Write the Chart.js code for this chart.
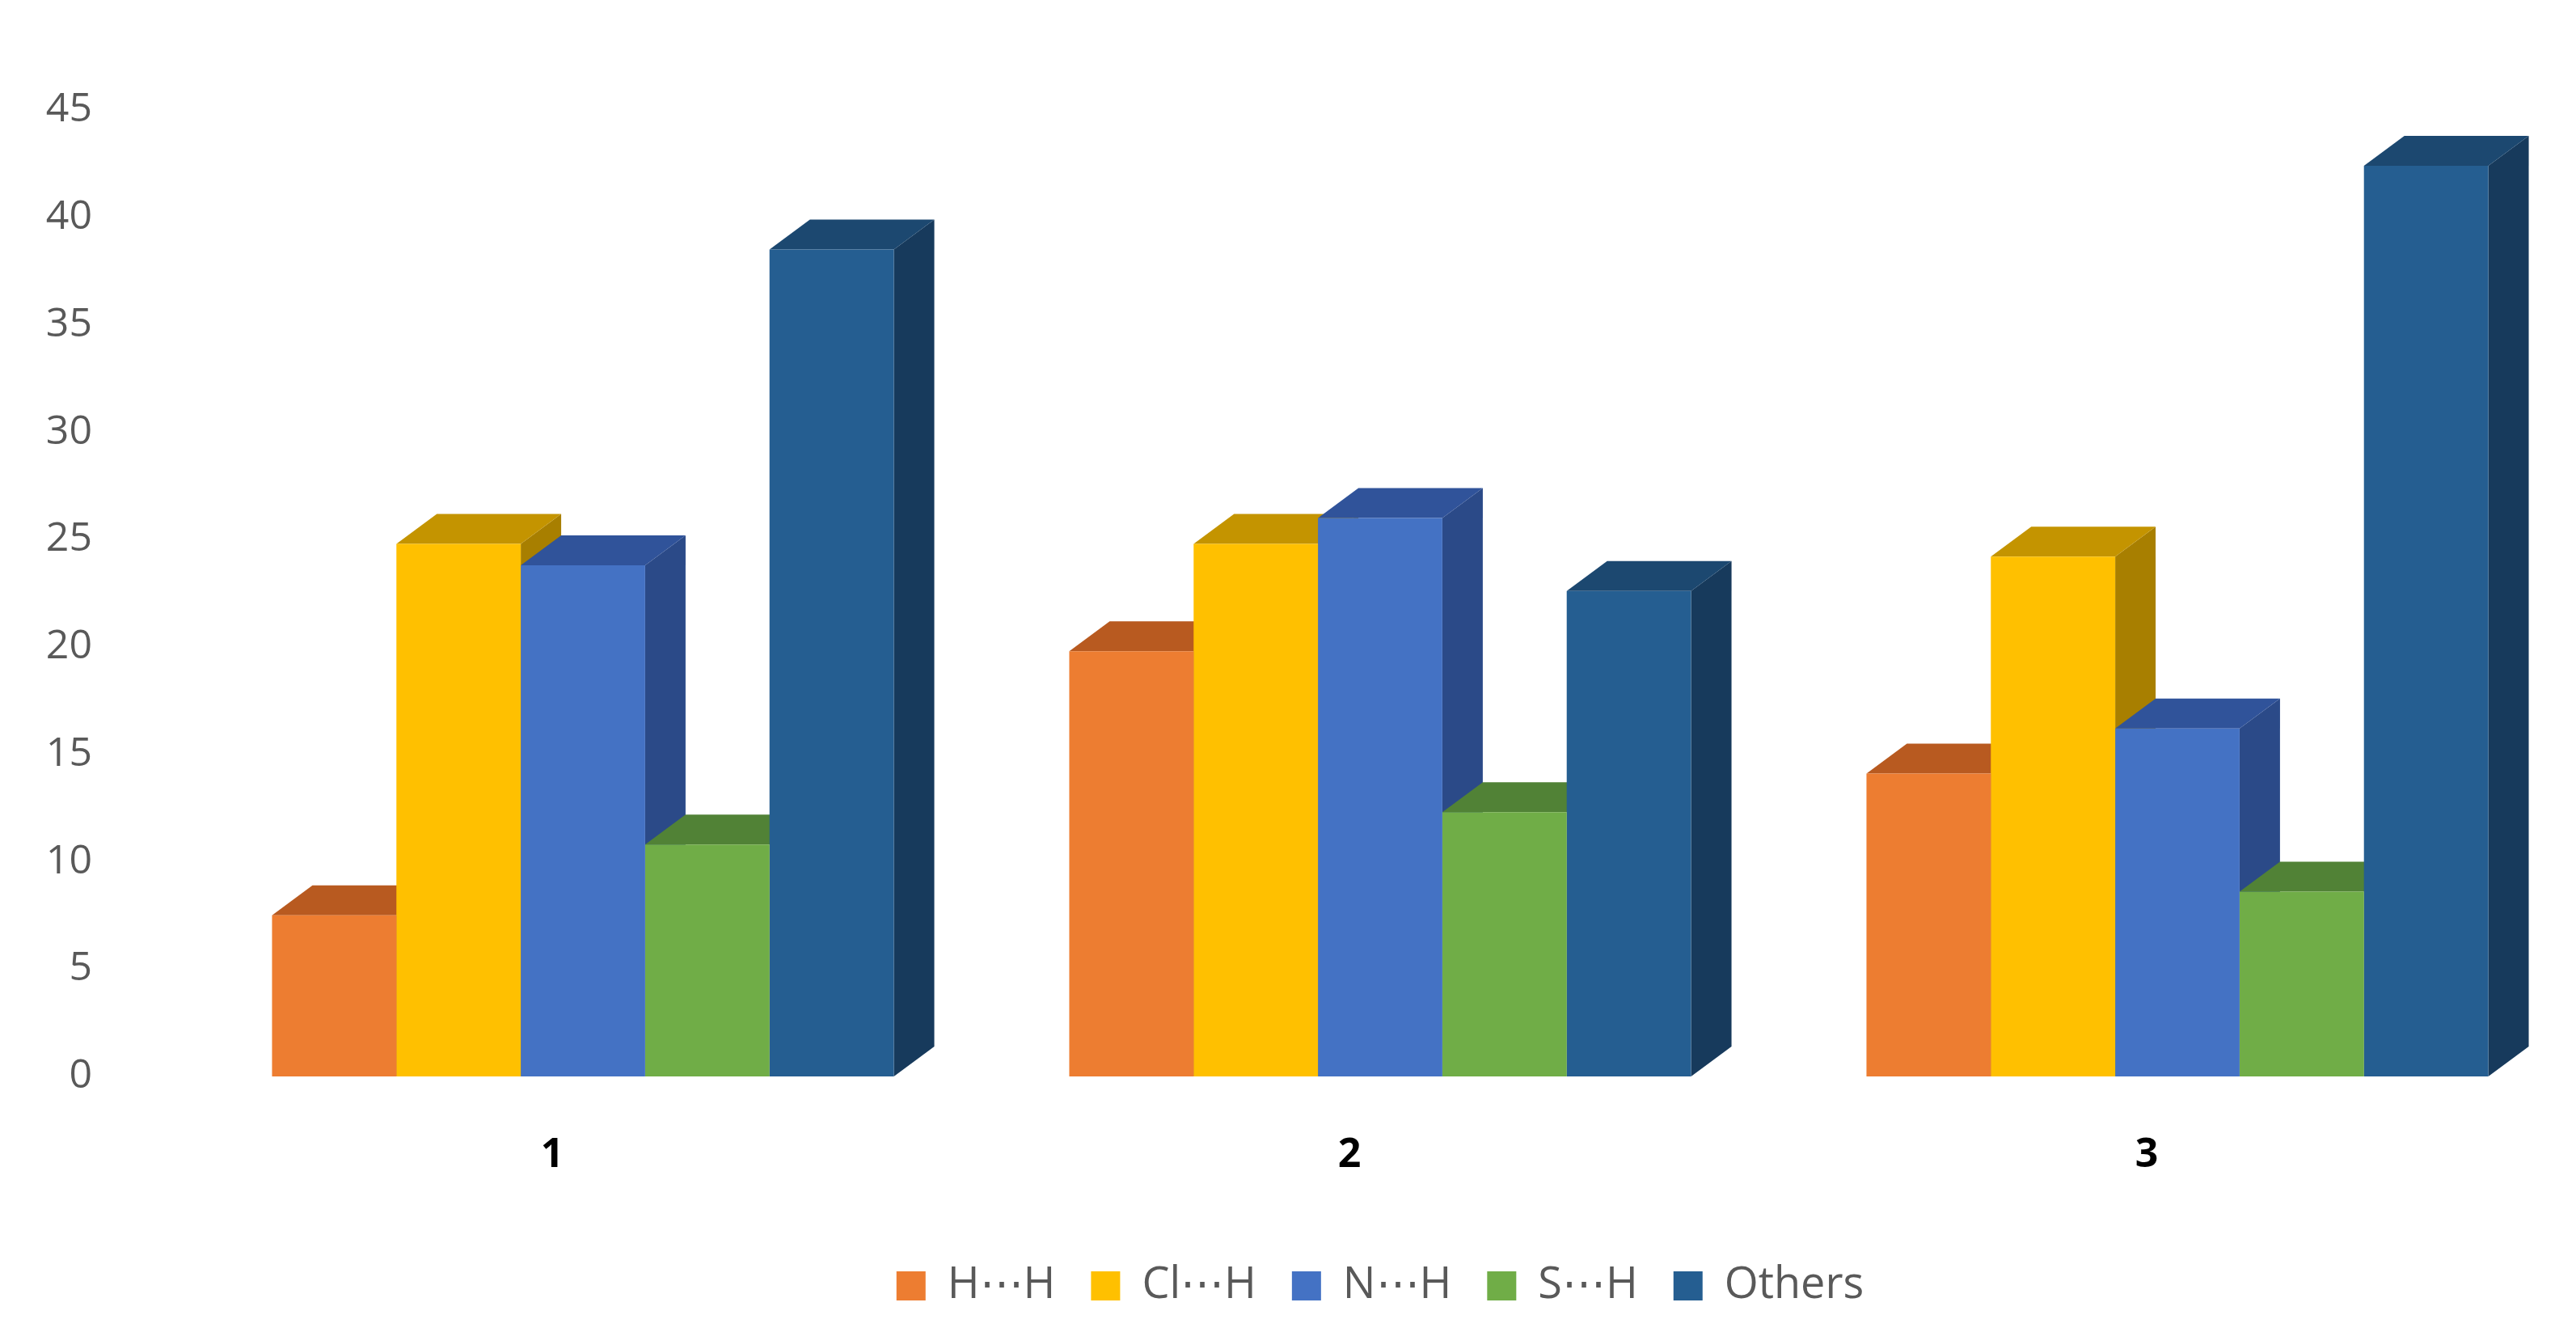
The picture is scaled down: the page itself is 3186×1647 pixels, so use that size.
<!DOCTYPE html>
<html><head><meta charset="utf-8">
<script src="https://cdn.jsdelivr.net/npm/chart.js@4"></script>
<style>html,body{margin:0;padding:0;background:#fff}#w{width:3186px;height:1647px}</style>
</head><body><div id="w"><canvas id="c"></canvas></div>
<script>
const categories = ['1','2','3'];
const seriesNames = ['H\u22EFH','Cl\u22EFH','N\u22EFH','S\u22EFH','Others'];
const hh = [7.5, 19.8, 14.1];
const clh = [24.8, 24.8, 24.2];
const nh = [23.8, 26.0, 16.2];
const sh = [10.8, 12.3, 8.6];
const others = [38.5, 22.6, 42.4];
const yTicks = [0,5,10,15,20,25,30,35,40,45];
const colors = ['#ED7D31','#FFC000','#4472C4','#70AD47','#255E91'];
const tops = ['#B85A20','#C49400','#30539A','#518236','#1C4870'];
const sides = ['#A04E1C','#A87F00','#2B4A88','#47722F','#173A5C'];
const series = [hh, clh, nh, sh, others];
const DX = 50, DY = 37;
const threeD = {
  id:'threeD',
  beforeDatasetsDraw(chart){
    const ctx = chart.ctx;
    chart.data.datasets.forEach((ds,i)=>{
      chart.getDatasetMeta(i).data.forEach(b=>{
        const l=b.x-b.width/2, r=b.x+b.width/2, t=b.y, bo=b.base;
        ctx.fillStyle=sides[i];
        ctx.beginPath();ctx.moveTo(r,t);ctx.lineTo(r+DX,t-DY);ctx.lineTo(r+DX,bo-DY);ctx.lineTo(r,bo);ctx.closePath();ctx.fill();
        ctx.fillStyle=tops[i];
        ctx.beginPath();ctx.moveTo(l,t);ctx.lineTo(l+DX,t-DY);ctx.lineTo(r+DX,t-DY);ctx.lineTo(r,t);ctx.closePath();ctx.fill();
      });
    });
  }
};
new Chart(document.getElementById('c'),{
  type:'bar',
  data:{labels:categories,datasets:series.map((d,i)=>({label:seriesNames[i],data:d,backgroundColor:colors[i],borderWidth:0}))},
  options:{
    responsive:true,maintainAspectRatio:false,animation:false,
    layout:{padding:{top:2,right:0,bottom:20,left:0}},
    datasets:{bar:{categoryPercentage:0.78,barPercentage:1}},
    plugins:{
      tooltip:{enabled:false},
      legend:{position:'bottom',fullSize:false,labels:{font:{family:'Open Sans',size:54},color:'#595959',boxWidth:36,boxHeight:36,padding:44}}
    },
    scales:{
      x:{grid:{display:false},border:{display:false},ticks:{font:{family:'Open Sans',size:50,weight:'bold'},color:'#000',padding:60,labelOffset:-38}},
      y:{min:0,max:45,afterBuildTicks:a=>{a.ticks=yTicks.map(v=>({value:v}));},
         afterFit:a=>{a.width=228;},
         grid:{display:false},border:{display:false},
         ticks:{font:{family:'Open Sans',size:50},color:'#595959',padding:106}}
    }
  },
  plugins:[threeD]
});
</script></body></html>
